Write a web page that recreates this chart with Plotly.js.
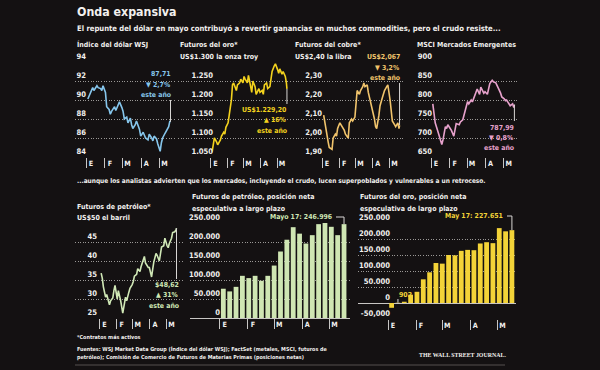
<!DOCTYPE html>
<html><head><meta charset="utf-8">
<script src="https://cdn.plot.ly/plotly-3.0.1.min.js"></script>
<style>html,body{margin:0;padding:0;background:#141112;}#chart{width:600px;height:370px;}</style>
</head><body><div id="chart"></div>
<script>
// ---------- DATA ----------
const dates = ['2016-01-04','2016-01-06','2016-01-08','2016-01-12','2016-01-14','2016-01-19','2016-01-21','2016-01-25','2016-01-27','2016-01-29',
 '2016-02-02','2016-02-04','2016-02-08','2016-02-10','2016-02-12','2016-02-17','2016-02-19','2016-02-23','2016-02-25','2016-02-29',
 '2016-03-02','2016-03-04','2016-03-08','2016-03-10','2016-03-14','2016-03-16','2016-03-18','2016-03-22','2016-03-24','2016-03-29','2016-03-31',
 '2016-04-04','2016-04-06','2016-04-08','2016-04-12','2016-04-14','2016-04-18','2016-04-20','2016-04-22','2016-04-26','2016-04-28',
 '2016-05-02','2016-05-04','2016-05-06','2016-05-10','2016-05-12','2016-05-16','2016-05-18','2016-05-19'];
const dollar = [90.1,90.4,90.8,91.3,91.0,91.5,91.3,91.2,91.0,91.5,
 90.8,89.3,89.0,88.5,88.8,89.3,88.9,89.4,89.8,89.2,
 88.8,88.0,88.2,87.6,88.1,87.4,87.0,87.4,87.8,86.9,86.2,
 86.6,86.3,86.0,85.8,86.4,86.0,85.7,86.2,85.9,85.4,
 84.6,85.5,86.0,86.5,86.8,87.2,87.8,87.71];
const gold = [1064,1085,1100,1090,1082,1095,1105,1115,1110,1128,
 1140,1160,1200,1240,1245,1225,1240,1245,1255,1245,
 1262,1255,1245,1265,1240,1220,1250,1235,1215,1230,1220,
 1225,1215,1240,1245,1230,1235,1255,1275,1290,1295,
 1280,1270,1282,1268,1275,1262,1245,1229.2];
const copper = [2.12,2.08,2.05,1.98,1.95,1.94,2.00,2.02,2.01,2.05,
 2.08,2.07,2.05,2.04,2.02,2.00,2.08,2.10,2.09,2.11,
 2.18,2.25,2.23,2.25,2.27,2.29,2.27,2.28,2.24,2.18,2.16,
 2.10,2.06,2.05,2.12,2.17,2.21,2.24,2.25,2.27,2.28,
 2.20,2.12,2.09,2.07,2.06,2.08,2.05,2.067];
const msci = [790,760,740,720,708,683,695,730,725,735,
 725,720,705,725,738,735,742,748,760,783,
 796,790,800,795,812,825,829,815,834,818,822,
 815,835,843,852,848,845,840,832,818,808,
 803,798,800,792,785,790,780,787.99];
const oil = [36.8,35.5,33.2,30.5,31.2,28.5,29.5,30.3,32.2,33.6,
 30.0,32.2,29.7,27.5,26.3,30.5,29.5,31.8,32.8,33.8,
 34.6,36.0,36.5,38.0,37.2,38.5,39.5,41.2,39.5,38.3,38.3,
 35.8,37.8,39.7,42.0,41.5,40.0,42.6,43.7,44.0,46.0,
 44.0,43.5,44.6,46.0,47.5,47.7,48.2,48.62];
const weeks = ['2016-01-05','2016-01-12','2016-01-19','2016-01-26','2016-02-02','2016-02-09','2016-02-16','2016-02-23','2016-03-01','2016-03-08',
 '2016-03-15','2016-03-22','2016-03-29','2016-04-05','2016-04-12','2016-04-19','2016-04-26','2016-05-03','2016-05-10','2016-05-17'];
const oilNet = [77000,70000,82000,111000,105000,111000,98000,111000,138000,175000,
 206000,239000,222000,196000,218000,247000,250000,240000,218000,246996];
const goldNet = [-15000,902,4000,26000,35000,74000,96000,125000,123000,150000,
 149000,163000,166000,165000,186000,190000,187000,234000,224000,227651];
const monthTicks = ['2016-01-01','2016-02-01','2016-03-01','2016-04-01','2016-05-01'];
const monthLabels = ['E','F','M','A','M'];
const dollarTicks = [84,86,88,90,92,94];
const dollarLabels = ['84','86','88','90','92','94'];
const goldTicks = [1050,1100,1150,1200,1250,1300];
const goldLabels = ['1.050','1.100','1.150','1.200','1.250',''];
const copperTicks = [1.9,2.0,2.1,2.2,2.3,2.4];
const copperLabels = ['1,90','2,00','2,10','2,20','2,30',''];
const msciTicks = [650,700,750,800,850,900];
const msciLabels = ['650','700','750','800','850','900'];
const oilTicks = [25,30,35,40,45,50];
const oilLabels = ['25','30','35','40','45',''];
const oilNetTicks = [0,50000,100000,150000,200000,250000];
const oilNetLabels = ['0','50.000','100.000','150.000','200.000','250.000'];
const goldNetTicks = [-50000,0,50000,100000,150000,200000,250000];
const goldNetLabels = ['-50,000','0','50.000','100.000','150.000','200.000','250.000'];

// ---------- LAYOUT HELPERS ----------
const W = 600, H = 370, DAY = 86400000, J1 = Date.UTC(2016,0,1);
const FONT = "'DejaVu Sans Condensed','Liberation Sans Narrow',sans-serif";
const BG = '#141112', WHITE = '#f2f0ee', GRID = '#9a9896';
const C = {dollar:'#86c6ec', gold:'#f3d21e', copper:'#f1c46c', msci:'#e7a2cc', oil:'#d0e8b6', oilBar:'#cfe6b3', goldBar:'#f3d338'};

const P = {
  dollar: {n:'', x0:75, x1:176, jan1:86, ppd:0.608, ytop:62, ybot:157, yr:[84,94], ylab:86},
  gold:   {n:'2', x0:178, x1:292, jan1:210.5, ppd:0.55, ytop:62, ybot:157, yr:[1050,1300], ylab:213},
  copper: {n:'3', x0:293, x1:404, jan1:322, ppd:0.558, ytop:62, ybot:157, yr:[1.9,2.4], ylab:322},
  msci:   {n:'4', x0:415, x1:518, jan1:431, ppd:0.6, ytop:62, ybot:157, yr:[650,900], ylab:432},
  oil:    {n:'5', x0:75, x1:184, jan1:99.5, ppd:0.554, ytop:223, ybot:318, yr:[25,50], ylab:97},
  oilNet: {n:'6', x0:190, x1:350, jan1:219.7, ppd:0.9075, ytop:223, ybot:318, yr:[0,250000], ylab:220},
  goldNet:{n:'7', x0:358, x1:516, jan1:388, ppd:0.9045, ytop:223, ybot:319, yr:[-50000,250000], ylab:390}
};
const px2t = (p, px) => J1 + (px - p.jan1) / p.ppd * DAY;
const t2px = (p, d) => p.jan1 + (Date.parse(d + 'T00:00:00Z') - J1) / DAY * p.ppd;
const v2py = (p, v) => p.ybot - (v - p.yr[0]) / (p.yr[1] - p.yr[0]) * (p.ybot - p.ytop);
const PX = v => v / W, PY = v => 1 - v / H;
const F = (size, color, weight) => ({family:FONT, size:size, color:color || WHITE, weight:weight || 700});

function xAxis(p) {
  return {domain:[PX(p.x0), PX(p.x1)], range:[px2t(p,p.x0), px2t(p,p.x1)], type:'date',
    anchor:'y'+p.n, tickvals:monthTicks, ticktext:monthLabels, ticks:'outside', ticklen:10,
    tickcolor:'#c8c6c4', tickwidth:1, showgrid:false, zeroline:false, showline:false,
    tickfont:F(7.2), ticklabelstandoff:-11, ticklabelshift:5, fixedrange:true};
}
function yAxis(p, tv, tt) {
  return {domain:[PY(p.ybot), PY(p.ytop)], range:p.yr, anchor:'free', position:PX(p.ylab),
    tickvals:tv, ticktext:tt, ticks:'', ticklabelposition:'outside top',
    showgrid:true, gridcolor:GRID, gridwidth:1, griddash:'1px,1.6px',
    zeroline:false, showline:false, tickfont:F(7.6), fixedrange:true};
}
function line(p, y, color) {
  return {type:'scatter', mode:'lines', x:dates, y:y, xaxis:'x'+p.n, yaxis:'y'+p.n,
    line:{color:color, width:1.6}, hoverinfo:'skip'};
}
function txt(x, y, text, opt) {
  opt = opt || {};
  return Object.assign({xref:'paper', yref:'paper', x:PX(x), y:PY(y), text:text, showarrow:false,
    xanchor:'left', yanchor:'middle', align:'left', font:F(7)}, opt);
}
function callout(xr, y0, lines, color) {
  return lines.map((s, i) => txt(xr, y0 + i * 10.3, s, {xanchor:'right', align:'right', font:F(6.9, color)}));
}
function lead(p, d, pyA, pyB) {
  const x = PX(t2px(p, d));
  return {type:'line', xref:'paper', yref:'paper', x0:x, x1:x, y0:PY(pyA), y1:PY(pyB),
    line:{color:'#d8d6d4', width:1}};
}

const last = a => a[a.length - 1];
const lastD = last(dates), lastW = last(weeks);
const smallW = weeks[1], smallV = goldNet[1];

const traces = [
  line(P.dollar, dollar, C.dollar),
  line(P.gold, gold, C.gold),
  line(P.copper, copper, C.copper),
  line(P.msci, msci, C.msci),
  line(P.oil, oil, C.oil),
  {type:'bar', x:weeks, y:oilNet, xaxis:'x6', yaxis:'y6', marker:{color:C.oilBar}, width:5.3*DAY, hoverinfo:'skip'},
  {type:'bar', x:weeks, y:goldNet, xaxis:'x7', yaxis:'y7', marker:{color:C.goldBar}, width:5.3*DAY, hoverinfo:'skip'}
];

const annotations = [
  txt(75, 12.5, 'Onda expansiva', {font:F(12.3)}),
  txt(75, 29, 'El repunte del dólar en mayo contribuyó a revertir ganancias en muchos commodities, pero el crudo resiste...', {font:F(7.6)}),
  txt(75, 45, 'Índice del dólar WSJ'),
  txt(178, 45, 'Futuros del oro*'),
  txt(178, 57, 'US$1.300 la onza troy'),
  txt(293, 45, 'Futuros del cobre*'),
  txt(293, 57, 'US$2,40 la libra'),
  txt(415, 45, 'MSCI Mercados Emergentes'),
  txt(75, 181, '...aunque los analistas advierten que los mercados, incluyendo el crudo, lucen superpoblados y vulnerables a un retroceso.', {font:F(6.5)}),
  txt(75, 207, 'Futuros de petróleo*'),
  txt(75, 218, 'US$50 el barril'),
  txt(190, 197, 'Futuros de petróleo, posición neta'),
  txt(190, 208.5, 'especulativa a largo plazo'),
  txt(358, 197, 'Futuros del oro, posición neta'),
  txt(358, 208.5, 'especulativa de largo plazo'),
  txt(334, 217, 'Mayo 17: 246.996', {xanchor:'right', font:F(6.9, C.oil)}),
  txt(505, 216, 'May 17: 227.651', {xanchor:'right', font:F(6.9, C.goldBar)}),
  txt(t2px(P.goldNet, smallW) - 1, 295, String(smallV), {font:F(6.9, C.goldBar)}),
  txt(75, 337, '*Contratos más activos', {font:F(5.4)}),
  txt(75, 349, 'Fuentes: WSJ Market Data Group (Índice del dólar WSJ); FactSet (metales, MSCI, futuros de', {font:F(5.4)}),
  txt(75, 357.5, 'petróleo); Comisión de Comercio de Futuros de Materias Primas (posiciones netas)', {font:F(5.4)}),
  txt(417, 355, 'THE WALL STREET JOURNAL.', {font:{family:"'Liberation Serif','DejaVu Serif',serif", size:5.9, color:WHITE, weight:700}})
].concat(
  callout(173, 74.3, [String(last(dollar)).replace('.', ','), '▼ 2,7%', 'este año'], C.dollar),
  callout(289, 110, ['US$1.229,20', '▲ 16%', 'este año'], C.gold),
  callout(402, 57.3, ['US$2,067', '▼ 3,2%', 'este año'], C.copper),
  callout(516, 127.7, ['787,99', '▼ 0,8%', 'este año'], C.msci),
  callout(181, 285, ['$48,62', '▲ 31%', 'este año'], C.oil)
);

const layout = {
  width:W, height:H, margin:{l:0,r:0,t:0,b:0}, paper_bgcolor:BG, plot_bgcolor:'rgba(0,0,0,0)',
  showlegend:false, font:{family:FONT, color:WHITE},
  xaxis:xAxis(P.dollar), yaxis:yAxis(P.dollar, dollarTicks, dollarLabels),
  xaxis2:xAxis(P.gold), yaxis2:yAxis(P.gold, goldTicks, goldLabels),
  xaxis3:xAxis(P.copper), yaxis3:yAxis(P.copper, copperTicks, copperLabels),
  xaxis4:xAxis(P.msci), yaxis4:yAxis(P.msci, msciTicks, msciLabels),
  xaxis5:xAxis(P.oil), yaxis5:yAxis(P.oil, oilTicks, oilLabels),
  xaxis6:Object.assign(xAxis(P.oilNet), {showline:true, linecolor:'#c8c6c4', linewidth:1}),
  yaxis6:yAxis(P.oilNet, oilNetTicks, oilNetLabels),
  xaxis7:xAxis(P.goldNet),
  yaxis7:Object.assign(yAxis(P.goldNet, goldNetTicks, goldNetLabels), {zeroline:true, zerolinecolor:'#c8c6c4', zerolinewidth:1}),
  annotations:annotations,
  shapes:[
    lead(P.dollar, lastD, v2py(P.dollar, last(dollar)), 100),
    lead(P.gold, lastD, v2py(P.gold, last(gold)), 104),
    lead(P.copper, lastD, 83, v2py(P.copper, last(copper))),
    lead(P.msci, lastD, v2py(P.msci, last(msci)), 121),
    lead(P.oil, lastD, v2py(P.oil, last(oil)), 279),
    lead(P.goldNet, smallW, 299, v2py(P.goldNet, smallV)),
    {type:'path', xref:'paper', yref:'paper', line:{color:'#d8d6d4', width:1},
     path:'M' + PX(336) + ',' + PY(217) + ' H' + PX(t2px(P.oilNet, lastW)) + ' V' + PY(v2py(P.oilNet, last(oilNet)))},
    {type:'path', xref:'paper', yref:'paper', line:{color:'#d8d6d4', width:1},
     path:'M' + PX(507) + ',' + PY(216) + ' H' + PX(t2px(P.goldNet, lastW)) + ' V' + PY(v2py(P.goldNet, last(goldNet)))},
    {type:'line', xref:'paper', yref:'paper', x0:PX(75), x1:PX(505), y0:PY(365), y1:PY(365), line:{color:'#55514f', width:1}}
  ]
};
Plotly.newPlot('chart', traces, layout, {staticPlot:true, displayModeBar:false});
</script></body></html>
